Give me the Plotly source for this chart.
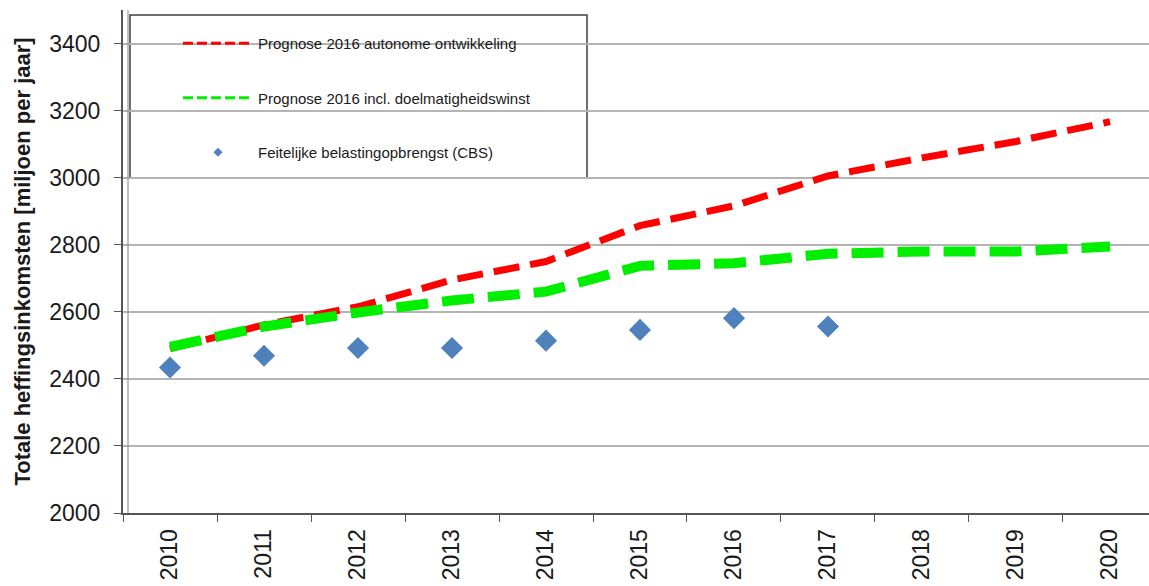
import plotly.graph_objects as go

# Jaren en reeksen (miljoen euro per jaar)
years = ["2010", "2011", "2012", "2013", "2014", "2015", "2016", "2017", "2018", "2019", "2020"]
prognose_autonoom = [2490, 2561, 2615, 2695, 2750, 2857, 2916, 3005, 3059, 3108, 3167]
prognose_doelmatig = [2495, 2556, 2598, 2634, 2660, 2737, 2745, 2773, 2780, 2780, 2795]
cbs_years = ["2010", "2011", "2012", "2013", "2014", "2015", "2016", "2017"]
cbs_opbrengst = [2434, 2469, 2492, 2492, 2514, 2546, 2581, 2556]

y_ticks = [2000, 2200, 2400, 2600, 2800, 3000, 3200, 3400]

names = [
    "Prognose 2016 autonome ontwikkeling",
    "Prognose 2016 incl. doelmatigheidswinst",
    "Feitelijke belastingopbrengst (CBS)",
]

FONT = "Liberation Sans, Arial, sans-serif"
RED = "#ff0000"
GREEN = "#00ee00"
BLUE = "#4f81bd"

fig = go.Figure()

# Reeksen in de grafiek
fig.add_trace(go.Scatter(
    x=years, y=prognose_autonoom, mode="lines", showlegend=False,
    line=dict(color=RED, width=7, dash="26px,11px"),
))
fig.add_trace(go.Scatter(
    x=years, y=prognose_doelmatig, mode="lines", showlegend=False,
    line=dict(color=GREEN, width=10, dash="32px,14px"),
))
fig.add_trace(go.Scatter(
    x=cbs_years, y=cbs_opbrengst, mode="markers", showlegend=False,
    marker=dict(symbol="diamond", size=17, color=BLUE),
))

# Legenda-items met dunnere lijnen en kleiner symbool
fig.add_trace(go.Scatter(
    x=[None], y=[None], mode="lines", name=names[0], legendgroup="a",
    line=dict(color=RED, width=3, dash="10px,4px"),
))
fig.add_trace(go.Scatter(
    x=[None], y=[None], mode="lines", name=names[1], legendgroup="b",
    line=dict(color=GREEN, width=3, dash="10px,4px"),
))
fig.add_trace(go.Scatter(
    x=[None], y=[None], mode="markers", name=names[2], legendgroup="c",
    marker=dict(symbol="diamond", size=7, color=BLUE),
))

# Witte legendakader met donkere rand
fig.add_shape(
    type="rect", xref="paper", yref="paper",
    x0=(130 - 123) / 1026, x1=(587 - 123) / 1026,
    y0=(513 - 178) / 503, y1=(513 - 15) / 503,
    fillcolor="white", line=dict(color="#404040", width=1.5),
    layer="between",
)
# Tweede lijn langs de verticale as
fig.add_shape(
    type="line", xref="paper", yref="paper",
    x0=5 / 1026, x1=5 / 1026, y0=0, y1=1,
    line=dict(color="#808080", width=1),
)

fig.update_layout(
    width=1149, height=586,
    margin=dict(l=123, r=0, t=10, b=73),
    paper_bgcolor="white", plot_bgcolor="white",
    font=dict(family=FONT, color="#1a1a1a"),
    showlegend=True,
    legend=dict(
        x=(178 - 123) / 1026, y=(513 - 27) / 503,
        xanchor="left", yanchor="top",
        bgcolor="rgba(0,0,0,0)", borderwidth=0,
        font=dict(family=FONT, size=15, color="#1a1a1a"),
        tracegroupgap=32, itemwidth=70,
    ),
    xaxis=dict(
        type="category", range=[-0.5, 10.415],
        showgrid=False, showline=True, linecolor="#555555", linewidth=2,
        ticks="outside", tickson="boundaries", ticklen=7, tickcolor="#555555",
        tickangle=-90, ticklabelstandoff=5,
        tickfont=dict(family=FONT, size=23, color="#1a1a1a"),
    ),
    yaxis=dict(
        range=[2000, 3500], tickvals=y_ticks,
        showgrid=True, gridcolor="#b4b4b4", gridwidth=1.5,
        showline=True, linecolor="#555555", linewidth=2,
        ticks="outside", ticklen=7, tickcolor="#555555",
        ticklabelstandoff=9,
        tickfont=dict(family=FONT, size=23, color="#1a1a1a"),
        title=dict(text="<b>Totale heffingsinkomsten [miljoen per jaar]</b>",
                   font=dict(family=FONT, size=22, color="#1a1a1a"), standoff=13),
        zeroline=False,
    ),
)

fig.write_html("out.html")
